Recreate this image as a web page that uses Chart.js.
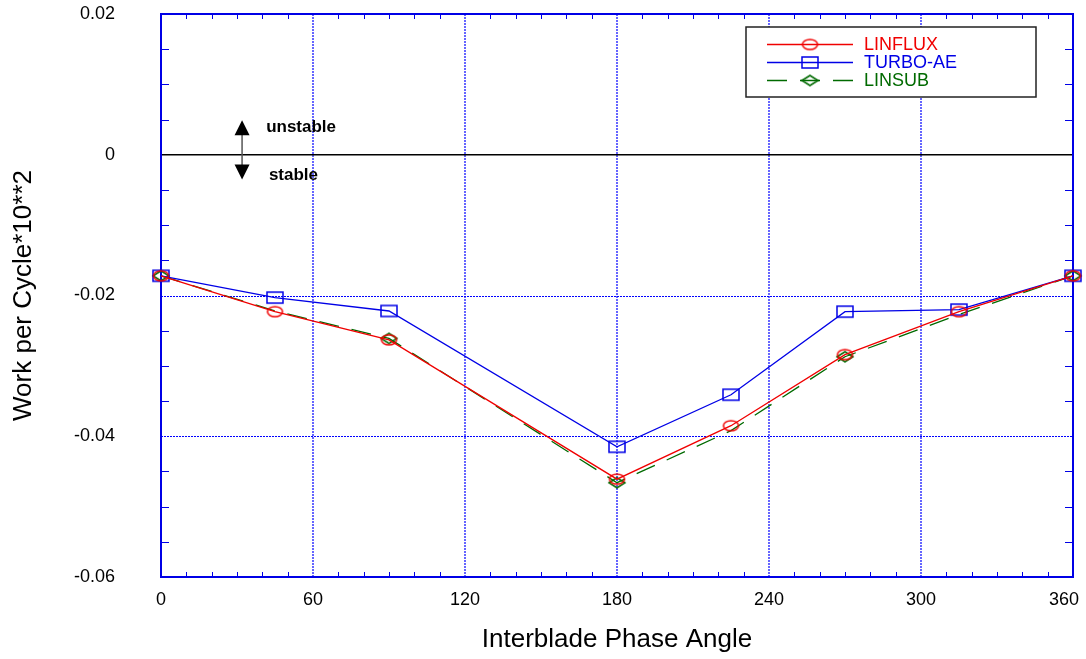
<!DOCTYPE html>
<html>
<head>
<meta charset="utf-8">
<script src="https://cdn.jsdelivr.net/npm/chart.js@4.4.0/dist/chart.umd.min.js"></script>
<style>
  html, body { margin: 0; padding: 0; background: #fff; }
  #chart { display: block; }
</style>
</head>
<body>
<canvas id="chart" width="1086" height="659"></canvas>
<script>
// values: interblade phase angle (deg) vs work per cycle
const phaseAngles = [0, 45, 90, 180, 225, 270, 315, 360];
const linflux = [-0.0172, -0.0223, -0.0263, -0.0461, -0.0385, -0.0284, -0.0223, -0.0172];
const turboAE = [-0.0172, -0.0203, -0.0222, -0.0415, -0.0341, -0.0223, -0.0220, -0.0172];
const linsub  = [-0.0172, -0.0222, -0.0261, -0.0466, -0.0392, -0.0287, -0.0227, -0.0172];
const linsubMarked = [true, false, true, true, false, true, false, true];

const xTicks = [0, 60, 120, 180, 240, 300, 360];
const xTickLabels = ['0', '60', '120', '180', '240', '300', '360'];
const yTicks = [-0.06, -0.04, -0.02, 0, 0.02];
const yTickLabels = ['-0.06', '-0.04', '-0.02', '0', '0.02'];

const FONT = '"Liberation Sans", Arial, sans-serif';
const RED = '#f00000';
const BLUE = '#0000e6';
const GRID_BLUE = '#0000ff';
const GREEN = '#006a00';

// hollow marker images (the markers in the plot are a bit wider than tall)
function marker(shape, color, w, h) {
  const c = document.createElement('canvas');
  c.width = w + 4;
  c.height = h + 4;
  const g = c.getContext('2d');
  const cx = c.width / 2, cy = c.height / 2;
  g.strokeStyle = color;
  g.lineWidth = 1.5;
  g.beginPath();
  if (shape === 'ellipse') {
    g.ellipse(cx, cy, w / 2, h / 2, 0, 0, Math.PI * 2);
  } else if (shape === 'rect') {
    g.rect(cx - w / 2, cy - h / 2, w, h);
  } else {
    g.moveTo(cx - w / 2, cy);
    g.lineTo(cx, cy - h / 2);
    g.lineTo(cx + w / 2, cy);
    g.lineTo(cx, cy + h / 2);
    g.closePath();
  }
  g.stroke();
  return c;
}

const circleImg = marker('ellipse', RED, 15, 10);
const squareImg = marker('rect', BLUE, 16, 11);
const diamondImg = marker('diamond', GREEN, 16, 10);

function toPoints(ys) {
  return phaseAngles.map((x, i) => ({ x: x, y: ys[i] }));
}

// grid, frame, minor ticks, zero line, stable/unstable note and legend box
const decorPlugin = {
  id: 'decor',
  beforeDatasetsDraw(chart) {
    const { ctx, chartArea: a, scales } = chart;
    const xs = scales.x, ys = scales.y;
    ctx.save();

    // dotted major grid
    ctx.strokeStyle = GRID_BLUE;
    ctx.lineWidth = 1.2;
    ctx.setLineDash([2, 1]);
    ctx.beginPath();
    xTicks.slice(1, -1).forEach(v => {
      const px = Math.round(xs.getPixelForValue(v));
      ctx.moveTo(px, a.top);
      ctx.lineTo(px, a.bottom);
    });
    ctx.stroke();
    ctx.lineWidth = 1;
    ctx.beginPath();
    yTicks.filter(v => v !== 0 && v > ys.min && v < ys.max).forEach(v => {
      const py = Math.round(ys.getPixelForValue(v)) + 0.5;
      ctx.moveTo(a.left, py);
      ctx.lineTo(a.right, py);
    });
    ctx.stroke();
    ctx.setLineDash([]);

    // zero line
    const y0 = ys.getPixelForValue(0);
    ctx.strokeStyle = '#000';
    ctx.lineWidth = 1.5;
    ctx.beginPath();
    ctx.moveTo(a.left, y0);
    ctx.lineTo(a.right, y0);
    ctx.stroke();

    // minor ticks pointing inward
    ctx.strokeStyle = BLUE;
    ctx.lineWidth = 1;
    ctx.beginPath();
    for (let d = 10; d < 360; d += 10) {
      if (d % 60 === 0) continue;
      const px = Math.round(xs.getPixelForValue(d)) + 0.5;
      ctx.moveTo(px, a.bottom);
      ctx.lineTo(px, a.bottom - 5);
      ctx.moveTo(px, a.top);
      ctx.lineTo(px, a.top + 5);
    }
    for (let i = -11; i < 4; i++) {
      if (i % 4 === 0) continue;
      const py = Math.round(ys.getPixelForValue(i * 0.005)) + 0.5;
      ctx.moveTo(a.left, py);
      ctx.lineTo(a.left + 8, py);
      ctx.moveTo(a.right, py);
      ctx.lineTo(a.right - 8, py);
    }
    ctx.stroke();

    // frame
    ctx.lineWidth = 2;
    ctx.strokeRect(a.left, a.top, a.right - a.left, a.bottom - a.top);

    // stable / unstable arrows
    const ax = xs.getPixelForValue(32);
    const yUp = ys.getPixelForValue(0.0049);
    const yDn = ys.getPixelForValue(-0.0035);
    ctx.strokeStyle = '#555';
    ctx.lineWidth = 1.5;
    ctx.beginPath();
    ctx.moveTo(ax, yUp + 14);
    ctx.lineTo(ax, yDn - 14);
    ctx.stroke();
    ctx.fillStyle = '#000';
    ctx.beginPath();
    ctx.moveTo(ax, yUp);
    ctx.lineTo(ax - 7.5, yUp + 15);
    ctx.lineTo(ax + 7.5, yUp + 15);
    ctx.closePath();
    ctx.fill();
    ctx.beginPath();
    ctx.moveTo(ax, yDn);
    ctx.lineTo(ax - 7.5, yDn - 15);
    ctx.lineTo(ax + 7.5, yDn - 15);
    ctx.closePath();
    ctx.fill();

    ctx.font = 'bold 17px ' + FONT;
    ctx.textBaseline = 'middle';
    ctx.textAlign = 'left';
    ctx.fillText('unstable', xs.getPixelForValue(41.5), ys.getPixelForValue(0.0039));
    ctx.fillText('stable', xs.getPixelForValue(42.6), ys.getPixelForValue(-0.0029));
    ctx.restore();
  },
  afterDatasetsDraw(chart) {
    const { ctx, chartArea: a } = chart;
    const left = a.right - 327, top = a.top + 13;
    ctx.save();
    ctx.fillStyle = '#fff';
    ctx.fillRect(left, top, 290, 70);
    ctx.strokeStyle = '#222';
    ctx.lineWidth = 1.5;
    ctx.strokeRect(left, top, 290, 70);

    ctx.font = '18px ' + FONT;
    ctx.textBaseline = 'middle';
    ctx.textAlign = 'left';
    chart.data.datasets.forEach((ds, i) => {
      const ry = top + 17.5 + i * 18;
      ctx.strokeStyle = ds.borderColor;
      ctx.lineWidth = ds.borderWidth;
      ctx.setLineDash(ds.borderDash || []);
      ctx.beginPath();
      ctx.moveTo(left + 21, ry);
      ctx.lineTo(left + 107, ry);
      ctx.stroke();
      ctx.setLineDash([]);
      const img = ds.legendMarker;
      ctx.drawImage(img, left + 64 - img.width / 2, ry - img.height / 2);
      ctx.fillStyle = ds.borderColor;
      ctx.fillText(ds.label, left + 118, ry + 1);
    });
    ctx.restore();
  }
};

const chart = new Chart(document.getElementById('chart'), {
  type: 'line',
  data: {
    datasets: [
      {
        label: 'LINFLUX',
        data: toPoints(linflux),
        borderColor: RED,
        borderWidth: 1.3,
        pointStyle: circleImg,
        legendMarker: circleImg,
        pointRadius: 5,
        clip: false
      },
      {
        label: 'TURBO-AE',
        data: toPoints(turboAE),
        borderColor: BLUE,
        borderWidth: 1.3,
        pointStyle: squareImg,
        legendMarker: squareImg,
        pointRadius: 5,
        clip: false
      },
      {
        label: 'LINSUB',
        data: toPoints(linsub),
        borderColor: GREEN,
        borderWidth: 1.3,
        borderDash: [20, 13],
        pointStyle: diamondImg,
        legendMarker: diamondImg,
        pointRadius: linsubMarked.map(m => m ? 5 : 0),
        clip: false
      }
    ]
  },
  options: {
    responsive: false,
    animation: false,
    events: [],
    layout: { padding: { top: 14, right: 13, left: 0, bottom: 0 } },
    plugins: {
      legend: { display: false },
      tooltip: { enabled: false }
    },
    scales: {
      x: {
        type: 'linear',
        min: 0,
        max: 360,
        afterBuildTicks: s => { s.ticks = xTicks.map(v => ({ value: v })); },
        afterFit: s => { s.height = 82; s.paddingRight = 0; s.paddingLeft = 0; },
        ticks: {
          font: { family: FONT, size: 18 },
          color: '#000',
          padding: 12,
          maxRotation: 0,
          autoSkip: false,
          // last label is pulled in a little so it stays on the page
          callback: (v, i) => i === xTickLabels.length - 1 ? xTickLabels[i] + '\u2002\u2002' : xTickLabels[i]
        },
        grid: { drawOnChartArea: false, drawTicks: false, tickLength: 0, color: 'rgba(0,0,0,0)' },
        border: { display: false },
        title: {
          display: true,
          text: 'Interblade Phase Angle',
          color: '#000',
          font: { family: FONT, size: 26 },
          padding: { top: 0, bottom: 4 }
        }
      },
      y: {
        type: 'linear',
        min: -0.06,
        max: 0.02,
        afterBuildTicks: s => { s.ticks = yTicks.map(v => ({ value: v })); },
        afterFit: s => { s.width = 161; s.paddingTop = 0; s.paddingBottom = 0; },
        ticks: {
          font: { family: FONT, size: 18 },
          color: '#000',
          padding: 46,
          callback: (v, i) => yTickLabels[i]
        },
        grid: { drawOnChartArea: false, drawTicks: false, tickLength: 0, color: 'rgba(0,0,0,0)' },
        border: { display: false },
        title: {
          display: true,
          text: 'Work per Cycle*10**2',
          color: '#000',
          font: { family: FONT, size: 26 },
          padding: { top: 8, bottom: 0 }
        }
      }
    }
  },
  plugins: [decorPlugin]
});
</script>
</body>
</html>
